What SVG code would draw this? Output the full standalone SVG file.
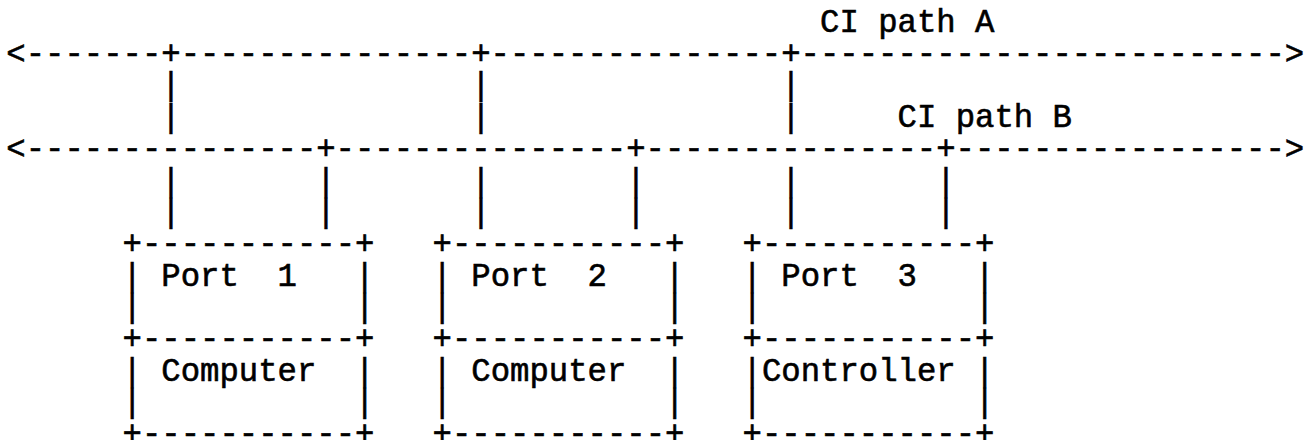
<svg xmlns="http://www.w3.org/2000/svg" width="1307" height="440" viewBox="0 0 1307 440">
  <style>
    .t { font-family: "Liberation Mono", "Courier New", monospace; font-size: 32.29px; fill: #000; stroke: #000; stroke-width: 0.6px; white-space: pre; }
  </style>
  <rect width="1307" height="440" fill="#fff"/>

  <!-- character grid: column c starts at x = 6.3 + 19.375*c, row r baseline at y = 32 + 31.7*r -->

  <g id="connectors">
    <text class="t" x="820.05" y="32" xml:space="preserve">CI path A</text>
    <text class="t" x="6.3" y="63.7" xml:space="preserve">&lt;-------+---------------+---------------+-------------------------&gt;</text>
    <!-- drops from path A -->
    <text class="t" y="95.4" xml:space="preserve"><tspan x="161.3">|</tspan><tspan x="471.3">|</tspan><tspan x="781.3">|</tspan></text>
    <text class="t" y="127.1" xml:space="preserve"><tspan x="161.3">|</tspan><tspan x="471.3">|</tspan><tspan x="781.3">|</tspan></text>
    <text class="t" x="897.55" y="127.1" xml:space="preserve">CI path B</text>
    <text class="t" x="6.3" y="158.8" xml:space="preserve">&lt;---------------+---------------+---------------+-----------------&gt;</text>
    <!-- drops to the ports -->
    <text class="t" y="190.5" xml:space="preserve"><tspan x="161.3">|</tspan><tspan x="316.3">|</tspan><tspan x="471.3">|</tspan><tspan x="626.3">|</tspan><tspan x="781.3">|</tspan><tspan x="936.3">|</tspan></text>
    <text class="t" y="222.2" xml:space="preserve"><tspan x="161.3">|</tspan><tspan x="316.3">|</tspan><tspan x="471.3">|</tspan><tspan x="626.3">|</tspan><tspan x="781.3">|</tspan><tspan x="936.3">|</tspan></text>
  </g>

  <g id="node-port1" class="t">
    <text x="122.55" y="253.9" xml:space="preserve">+-----------+</text>
    <text x="122.55" y="285.6" xml:space="preserve">| Port  1   |</text>
    <text x="122.55" y="317.3" xml:space="preserve">|           |</text>
    <text x="122.55" y="349" xml:space="preserve">+-----------+</text>
    <text x="122.55" y="380.7" xml:space="preserve">| Computer  |</text>
    <text x="122.55" y="412.4" xml:space="preserve">|           |</text>
    <text x="122.55" y="444.1" xml:space="preserve">+-----------+</text>
  </g>

  <g id="node-port2" class="t">
    <text x="432.55" y="253.9" xml:space="preserve">+-----------+</text>
    <text x="432.55" y="285.6" xml:space="preserve">| Port  2   |</text>
    <text x="432.55" y="317.3" xml:space="preserve">|           |</text>
    <text x="432.55" y="349" xml:space="preserve">+-----------+</text>
    <text x="432.55" y="380.7" xml:space="preserve">| Computer  |</text>
    <text x="432.55" y="412.4" xml:space="preserve">|           |</text>
    <text x="432.55" y="444.1" xml:space="preserve">+-----------+</text>
  </g>

  <g id="node-port3" class="t">
    <text x="742.55" y="253.9" xml:space="preserve">+-----------+</text>
    <text x="742.55" y="285.6" xml:space="preserve">| Port  3   |</text>
    <text x="742.55" y="317.3" xml:space="preserve">|           |</text>
    <text x="742.55" y="349" xml:space="preserve">+-----------+</text>
    <text x="742.55" y="380.7" xml:space="preserve">|Controller |</text>
    <text x="742.55" y="412.4" xml:space="preserve">|           |</text>
    <text x="742.55" y="444.1" xml:space="preserve">+-----------+</text>
  </g>
</svg>
